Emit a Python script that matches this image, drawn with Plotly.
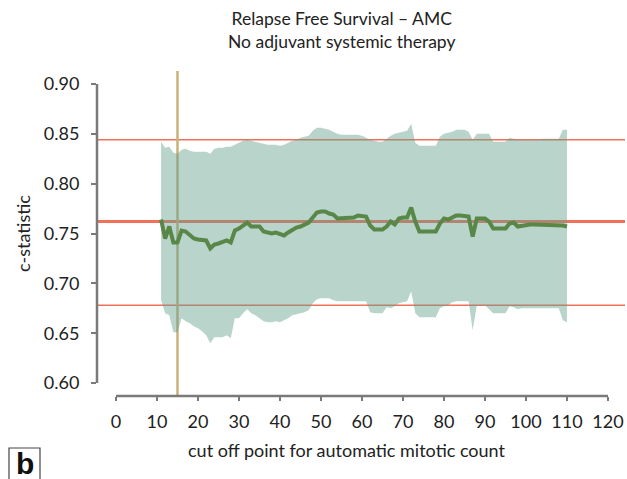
import plotly.graph_objects as go

cutoff = list(range(11, 111))

c_stat = [0.764, 0.745, 0.757, 0.741, 0.741, 0.753, 0.752, 0.748, 0.745, 0.744,
          0.744, 0.743, 0.735, 0.739, 0.740, 0.742, 0.743, 0.741, 0.753, 0.755,
          0.758, 0.761, 0.757, 0.757, 0.757, 0.752, 0.751, 0.750, 0.751, 0.750,
          0.748, 0.751, 0.754, 0.756, 0.757, 0.759, 0.761, 0.766, 0.771, 0.772,
          0.772, 0.770, 0.769, 0.765, 0.765, 0.765, 0.765, 0.766, 0.768, 0.767,
          0.767, 0.758, 0.754, 0.754, 0.754, 0.757, 0.762, 0.759, 0.765, 0.766,
          0.766, 0.776, 0.762, 0.752, 0.752, 0.752, 0.752, 0.752, 0.760, 0.765,
          0.764, 0.766, 0.768, 0.768, 0.768, 0.767, 0.747, 0.765, 0.765, 0.765,
          0.762, 0.755, 0.755, 0.755, 0.755, 0.760, 0.761, 0.757, 0.758, 0.758,
          0.759, 0.759, 0.759, 0.759, 0.759, 0.759, 0.759, 0.759, 0.758, 0.757]

ci_upper = [0.842, 0.836, 0.837, 0.831, 0.830, 0.834, 0.835, 0.833, 0.832, 0.832,
            0.832, 0.832, 0.830, 0.835, 0.836, 0.836, 0.837, 0.837, 0.839, 0.841,
            0.843, 0.844, 0.843, 0.842, 0.841, 0.840, 0.839, 0.839, 0.839, 0.838,
            0.839, 0.841, 0.843, 0.844, 0.846, 0.847, 0.848, 0.853, 0.856, 0.856,
            0.855, 0.854, 0.852, 0.850, 0.849, 0.849, 0.849, 0.849, 0.849, 0.848,
            0.846, 0.844, 0.843, 0.842, 0.842, 0.845, 0.848, 0.850, 0.851, 0.852,
            0.853, 0.860, 0.841, 0.838, 0.838, 0.838, 0.838, 0.838, 0.847, 0.850,
            0.851, 0.852, 0.854, 0.854, 0.854, 0.852, 0.844, 0.850, 0.850, 0.850,
            0.850, 0.842, 0.842, 0.842, 0.842, 0.846, 0.845, 0.844, 0.844, 0.844,
            0.844, 0.844, 0.844, 0.845, 0.845, 0.845, 0.845, 0.845, 0.854, 0.854]

ci_lower = [0.683, 0.670, 0.668, 0.651, 0.651, 0.665, 0.662, 0.660, 0.657, 0.655,
            0.652, 0.648, 0.640, 0.646, 0.646, 0.646, 0.648, 0.645, 0.665, 0.665,
            0.670, 0.674, 0.670, 0.668, 0.665, 0.662, 0.661, 0.661, 0.662, 0.661,
            0.663, 0.665, 0.668, 0.669, 0.670, 0.671, 0.673, 0.680, 0.684, 0.685,
            0.685, 0.685, 0.683, 0.682, 0.682, 0.682, 0.682, 0.682, 0.682, 0.682,
            0.682, 0.671, 0.670, 0.670, 0.670, 0.676, 0.675, 0.677, 0.680, 0.681,
            0.682, 0.692, 0.670, 0.666, 0.666, 0.666, 0.666, 0.666, 0.675, 0.677,
            0.678, 0.681, 0.682, 0.682, 0.682, 0.682, 0.653, 0.678, 0.678, 0.678,
            0.674, 0.670, 0.670, 0.670, 0.670, 0.677, 0.676, 0.674, 0.675, 0.675,
            0.675, 0.675, 0.675, 0.675, 0.675, 0.675, 0.675, 0.675, 0.663, 0.661]

ref_mean = 0.762
ref_upper = 0.844
ref_lower = 0.678
chosen_cutoff = 15

x_ticks = list(range(0, 121, 10))
y_ticks = [0.60, 0.65, 0.70, 0.75, 0.80, 0.85, 0.90]

title_lines = ["Relapse Free Survival \u2013 AMC", "No adjuvant systemic therapy"]
x_title = "cut off point for automatic mitotic count"
y_title = "c-statistic"
panel_label = "b"

X_RANGE = [-4.63, 124.15]
Y_RANGE = [0.587, 0.913]
FONT = "Lato, Open Sans, sans-serif"
AXIS_GREY = "#7a7a7a"
RED = "#f0705a"


def px(v):
    return (v - X_RANGE[0]) / (X_RANGE[1] - X_RANGE[0])


def py(v):
    return (v - Y_RANGE[0]) / (Y_RANGE[1] - Y_RANGE[0])


fig = go.Figure()
fig.add_trace(go.Scatter(x=cutoff, y=ci_upper, mode="lines",
                         line=dict(width=0), hoverinfo="skip", showlegend=False))
fig.add_trace(go.Scatter(x=cutoff, y=ci_lower, mode="lines", fill="tonexty",
                         fillcolor="rgba(100,160,140,0.45)",
                         line=dict(width=0), hoverinfo="skip", showlegend=False))
fig.add_trace(go.Scatter(x=cutoff, y=c_stat, mode="lines",
                         line=dict(color="#588748", width=4), showlegend=False))

shapes = []
for val, w in [(ref_upper, 1.5), (ref_mean, 3), (ref_lower, 1.5)]:
    shapes.append(dict(type="line", xref="x", yref="y", x0=X_RANGE[0], x1=X_RANGE[1],
                       y0=val, y1=val, line=dict(color=RED, width=w), layer="between"))
shapes.append(dict(type="line", xref="x", yref="y", x0=chosen_cutoff, x1=chosen_cutoff,
                   y0=Y_RANGE[0], y1=Y_RANGE[1], line=dict(color="#cdb07a", width=2.5),
                   layer="between"))
# axis lines
shapes.append(dict(type="line", xref="paper", yref="paper", x0=0, x1=0,
                   y0=py(y_ticks[0]), y1=py(y_ticks[-1]),
                   line=dict(color=AXIS_GREY, width=2.5)))
shapes.append(dict(type="line", xref="paper", yref="paper", x0=px(x_ticks[0]), x1=px(x_ticks[-1]),
                   y0=0, y1=0, line=dict(color=AXIS_GREY, width=2.5)))
# panel label box
shapes.append(dict(type="rect", xref="paper", yref="paper",
                   x0=(9 - 97) / 528, x1=(40 - 97) / 528, y0=(396 - 480) / 325, y1=(396 - 448) / 325,
                   line=dict(color="#444444", width=1.2), fillcolor="white"))

annotations = [
    dict(text="<br>".join(title_lines), xref="paper", yref="paper",
         x=(341 - 97) / 528, y=(396 - 6) / 325, xanchor="center", yanchor="top",
         showarrow=False, font=dict(family=FONT, size=17.5, color="#222222"), align="center"),
    dict(text=x_title, xref="paper", yref="paper",
         x=(347 - 97) / 528, y=(396 - 450) / 325, xanchor="center", yanchor="middle",
         showarrow=False, font=dict(family=FONT, size=18, color="#222222")),
    dict(text="<b>" + panel_label + "</b>", xref="paper", yref="paper",
         x=(24.5 - 97) / 528, y=(396 - 463) / 325, xanchor="center", yanchor="middle",
         showarrow=False, font=dict(family="Liberation Sans, Arial, sans-serif", size=30, color="#111111")),
]

fig.update_layout(
    width=627, height=479,
    margin=dict(l=97, r=2, t=71, b=83),
    paper_bgcolor="white", plot_bgcolor="white",
    font=dict(family=FONT, size=18, color="#222222"),
    shapes=shapes, annotations=annotations,
    xaxis=dict(range=X_RANGE, tickvals=x_ticks, ticktext=[str(v) for v in x_ticks],
               showgrid=False, zeroline=False, showline=False,
               ticks="outside", ticklen=4, tickwidth=2, tickcolor=AXIS_GREY,
               ticklabelstandoff=5),
    yaxis=dict(range=Y_RANGE, tickvals=y_ticks, ticktext=["%.2f" % v for v in y_ticks],
               showgrid=False, zeroline=False, showline=False,
               ticks="outside", ticklen=5, tickwidth=2, tickcolor=AXIS_GREY,
               ticklabelstandoff=8,
               title=dict(text=y_title, font=dict(size=18), standoff=8)),
)

fig.write_html("out.html")
